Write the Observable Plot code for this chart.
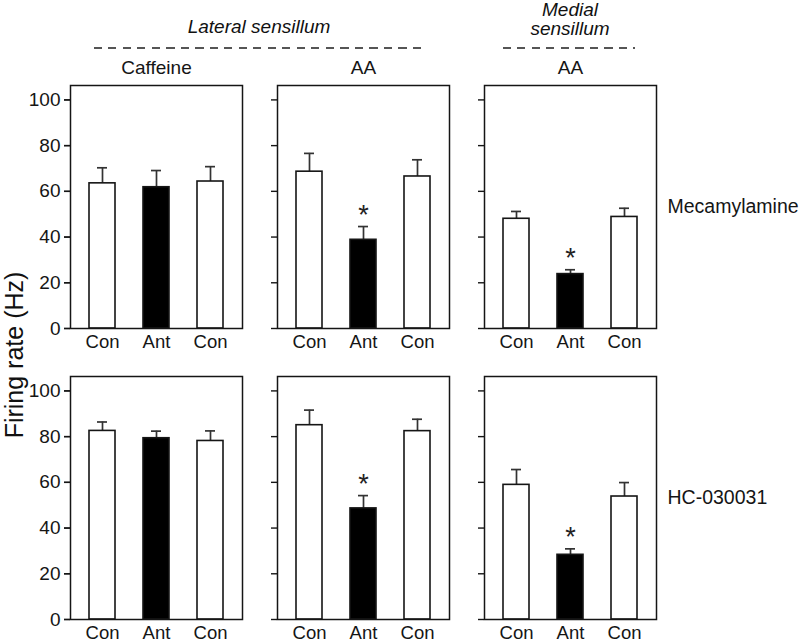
<!DOCTYPE html>
<html>
<head>
<meta charset="utf-8">
<script src="https://cdn.jsdelivr.net/npm/d3@7"></script>
<script src="https://cdn.jsdelivr.net/npm/@observablehq/plot@0.6"></script>
<style>
  html, body { margin: 0; padding: 0; background: #fff; }
  #wrap { position: relative; width: 799px; height: 644px; font-family: "Liberation Sans", Arial, sans-serif; color: #111; overflow: hidden; }
  #wrap svg { position: absolute; left: 0; top: 0; }
  .hdr { position: absolute; font-style: italic; font-size: 19px; line-height: 19px; text-align: center; white-space: nowrap; transform: translateX(-50%); z-index: 2; }
  .dash { position: absolute; height: 2px; z-index: 2;
          background: repeating-linear-gradient(to right, #555 0 8px, transparent 8px 14.5px); }
  #ylab { position: absolute; left: 14px; top: 355px; font-size: 25px; white-space: nowrap;
          transform: translate(-50%, -50%) rotate(-90deg); z-index: 2; }
</style>
</head>
<body>
<div id="wrap">
  <div class="hdr" style="left:259px; top:17px;">Lateral sensillum</div>
  <div class="dash" style="left:94px; top:47px; width:328px;"></div>
  <div class="hdr" style="left:570px; top:0px;">Medial<br>sensillum</div>
  <div class="dash" style="left:503px; top:47px; width:132px;"></div>
  <div id="ylab">Firing rate (Hz)</div>
</div>
<script>
// ---- data ----
const antagonists = ["Mecamylamine", "HC-030031"];
const panels = ["latCaffeine", "latAA", "medAA"];
const panelLabels = ["Caffeine", "AA", "AA"];
const conditions = ["Con1", "Ant", "Con2"];
const conditionLabels = ["Con", "Ant", "Con"];
const yTicks = [0, 20, 40, 60, 80, 100];

// rows: panels; columns: conditions
const mecamylamineMeans  = [[63.5, 61.8, 64.3], [68.6, 38.8, 66.5], [48.0, 23.8, 48.8]];
const mecamylamineErrors = [[6.8, 7.3, 6.5],    [8.0, 5.8, 7.3],    [3.2, 1.9, 3.8]];
const mecamylamineSig    = [[false, false, false], [false, true, false], [false, true, false]];
const hcMeans  = [[82.5, 79.3, 78.1], [85.0, 48.6, 82.4], [58.9, 28.3, 53.8]];
const hcErrors = [[3.9, 3.1, 4.4],    [6.6, 5.6, 5.2],    [6.7, 2.6, 6.1]];
const hcSig    = [[false, false, false], [false, true, false], [false, true, false]];

const sets = [
  [antagonists[0], mecamylamineMeans, mecamylamineErrors, mecamylamineSig],
  [antagonists[1], hcMeans, hcErrors, hcSig]
];
const data = [];
for (const [ant, means, errs, sigs] of sets) {
  panels.forEach((p, i) => conditions.forEach((c, j) => {
    data.push({antagonist: ant, panel: p, condition: c, mean: means[i][j], err: errs[i][j], sig: sigs[i][j]});
  }));
}

const facet = {fx: "panel", fy: "antagonist"};
const ink = "#151515";

const chart = Plot.plot({
  width: 799,
  height: 644,
  marginTop: 85,
  marginBottom: 25,
  marginLeft: 70,
  marginRight: 143,
  style: {fontFamily: "Liberation Sans, Arial, sans-serif", fontSize: "19px", color: ink, background: "transparent", overflow: "visible"},
  fx: {domain: panels, paddingInner: 0.17, paddingOuter: 0, axis: null},
  fy: {domain: antagonists, paddingInner: 0.165, paddingOuter: 0, axis: null},
  x: {domain: conditions, paddingInner: 0.515, paddingOuter: 0.35, axis: null},
  y: {domain: [0, 106.3], axis: null},
  color: {type: "identity"},
  marks: [
    Plot.ruleX(data, {...facet, x: "condition", y1: "mean", y2: d => d.mean + d.err, stroke: "#333", strokeWidth: 1.7}),
    Plot.tickY(data, {...facet, x: "condition", y: d => d.mean + d.err, stroke: "#333", strokeWidth: 1.7, insetLeft: 8, insetRight: 8}),
    Plot.barY(data, {...facet, x: "condition", y: "mean", fill: d => d.condition === "Ant" ? "#000" : "#fff", stroke: ink, strokeWidth: 1.6}),
    Plot.text(data, {...facet, filter: d => d.sig, x: "condition", y: d => d.mean + d.err, text: () => "*", lineAnchor: "bottom", dy: -3, fontSize: 27, fill: "#222"}),
    Plot.frame({stroke: ink, strokeWidth: 1.5}),
    Plot.axisY({facetAnchor: null, ticks: yTicks, tickSize: 6, tickFormat: () => "", label: null, strokeWidth: 1.4}),
    Plot.axisY({ticks: yTicks, tickSize: 6, tickPadding: 4, label: null, fontSize: 19, strokeWidth: 1.4}),
    Plot.axisX({facetAnchor: null, tickSize: 0, tickPadding: 6, tickFormat: d => conditionLabels[conditions.indexOf(d)], label: null, fontSize: 18.5}),
    Plot.axisFx({anchor: "top", tickSize: 0, tickPadding: 12, tickFormat: d => panelLabels[panels.indexOf(d)], label: null, fontSize: 19}),
    Plot.axisFy({anchor: "right", tickSize: 0, tickPadding: 11, label: null, fontSize: 19.5})
  ]
});
document.getElementById("wrap").appendChild(chart);
</script>
</body>
</html>
